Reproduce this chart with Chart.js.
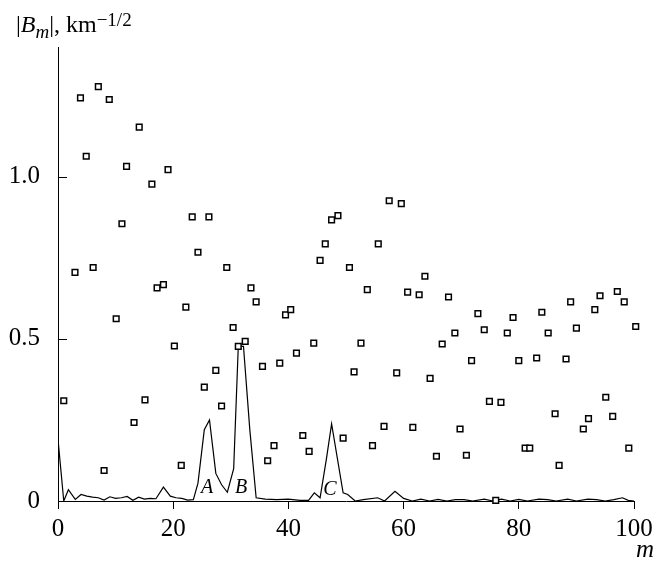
<!DOCTYPE html>
<html>
<head>
<meta charset="utf-8">
<script src="https://cdn.jsdelivr.net/npm/chart.js@4.4.1/dist/chart.umd.min.js"></script>
<style>
	html, body { margin: 0; padding: 0; background: #fff; }
</style>
</head>
<body>
<canvas id="chart" width="665" height="561"></canvas>
<script>
// Squares: |B_m|
const pointM = [1, 2.95, 3.9, 4.9, 6.1, 7, 8, 8.9, 10.1, 11.1, 11.9, 13.2, 14.1, 15.1, 16.3, 17.2, 18.3, 19.1, 20.2, 21.4,
	22.2, 23.3, 24.3, 25.4, 26.2, 27.4, 28.4, 29.3, 30.4, 31.3, 32.5, 33.5, 34.4, 35.5, 36.4, 37.5, 38.5, 39.5, 40.4, 41.4,
	42.5, 43.6, 44.4, 45.5, 46.4, 47.5, 48.6, 49.5, 50.6, 51.4, 52.6, 53.7, 54.6, 55.6, 56.6, 57.5, 58.8, 59.6, 60.7, 61.6,
	62.7, 63.7, 64.6, 65.7, 66.7, 67.8, 68.9, 69.8, 70.9, 71.8, 72.9, 74.0, 74.9, 76.0, 76.9, 78.0, 79.0, 80.0, 81.1, 81.9,
	83.1, 84.0, 85.1, 86.3, 87.0, 88.2, 89.0, 90.0, 91.2, 92.1, 93.2, 94.1, 95.1, 96.3, 97.1, 98.3, 99.1, 100.3];
const pointB = [0.309, 0.705, 1.243, 1.063, 0.72, 1.278, 0.094, 1.238, 0.562, 0.855, 1.032, 0.242, 1.153, 0.312, 0.977, 0.657, 0.667, 1.022, 0.478, 0.11,
	0.598, 0.876, 0.767, 0.351, 0.876, 0.403, 0.293, 0.72, 0.535, 0.477, 0.492, 0.657, 0.614, 0.415, 0.124, 0.171, 0.425, 0.574, 0.59, 0.456,
	0.202, 0.153, 0.487, 0.742, 0.793, 0.867, 0.88, 0.194, 0.72, 0.398, 0.487, 0.652, 0.171, 0.793, 0.23, 0.926, 0.395, 0.917, 0.644, 0.227,
	0.636, 0.693, 0.378, 0.138, 0.484, 0.629, 0.518, 0.222, 0.141, 0.433, 0.578, 0.528, 0.307, 0.002, 0.304, 0.518, 0.566, 0.433, 0.163, 0.163,
	0.441, 0.582, 0.518, 0.269, 0.11, 0.438, 0.614, 0.533, 0.222, 0.254, 0.59, 0.633, 0.32, 0.261, 0.646, 0.614, 0.163, 0.538];

// Solid curve
const curveM = [0, 1, 1.8, 3, 4, 5, 6, 7, 8, 9, 10, 11, 12, 13, 14, 15, 16, 17, 18.3, 19.5, 20.5, 21.5, 22.5, 23.5,
	24.3, 25.4, 26.3, 27.4, 28.4, 29.4, 30.5, 31.3, 32.2, 33.3, 34.4, 36, 38, 40, 42, 43.5, 44.5, 45.5, 46.6, 47.5,
	49.5, 50.3, 51.6, 53, 55.5, 56.7, 58.5, 60, 61.5, 63, 64.5, 66, 67.5, 69, 70.5, 72, 74, 75.5, 77, 78.5, 80, 81.5,
	83.5, 85, 86.5, 88.5, 90, 92, 93.5, 95, 96.5, 98, 99, 100];
const curveB = [0.19, 0, 0.035, 0.005, 0.02, 0.015, 0.012, 0.01, 0.003, 0.013, 0.008, 0.01, 0.014, 0.002, 0.012, 0.006, 0.008, 0.007, 0.043, 0.015, 0.01, 0.008, 0.003, 0.004,
	0.055, 0.22, 0.25, 0.085, 0.05, 0.027, 0.1, 0.477, 0.477, 0.22, 0.01, 0.006, 0.004, 0.006, 0.002, 0.002, 0.025, 0.01, 0.13, 0.238,
	0.025, 0.02, 0, 0.004, 0.01, 0, 0.03, 0.008, 0, 0.006, 0, 0.005, 0, 0.004, 0.004, 0, 0.006, 0, 0.006, 0, 0.005, 0,
	0.006, 0.004, 0, 0.006, 0, 0.006, 0.004, 0, 0.004, 0.01, 0.002, 0];

const yTickVals   = [0, 0.5, 1.0];
const yTickLabels = ['0', '0.5', '1.0'];
const peakNames   = ['A', 'B', 'C'];
const peakM       = [25.9, 31.8, 47.2];
const peakB       = [0.025, 0.025, 0.02];

const SERIF = '"Liberation Serif", "Times New Roman", serif';

const extras = {
	id: 'extras',
	afterDraw(chart) {
		const { ctx, scales: { x, y } } = chart;
		ctx.save();
		ctx.strokeStyle = '#000';
		ctx.lineWidth = 1;
		// inward ticks on y
		yTickVals.forEach(v => {
			const py = Math.round(y.getPixelForValue(v)) + 0.5;
			ctx.beginPath();
			ctx.moveTo(x.left, py);
			ctx.lineTo(x.left + 9, py);
			ctx.stroke();
		});
		ctx.fillStyle = '#000';
		ctx.textBaseline = 'alphabetic';

		// peak labels
		ctx.font = 'italic 20px ' + SERIF;
		ctx.textAlign = 'center';
		peakNames.forEach((t, i) => {
			ctx.fillText(t, x.getPixelForValue(peakM[i]), y.getPixelForValue(peakB[i]));
		});

		// y title: |B_m|, km^-1/2
		ctx.textAlign = 'left';
		let px = 16;
		const base = 32;
		const put = (text, font, dy) => {
			ctx.font = font;
			ctx.fillText(text, px, base + dy);
			px += ctx.measureText(text).width;
		};
		put('|', '24px ' + SERIF, 0);
		put('B', 'italic 24px ' + SERIF, 0);
		put('m', 'italic 19px ' + SERIF, 6);
		put('|, km', '24px ' + SERIF, 0);
		put('\u22121/2', '19px ' + SERIF, -6);

		// x title
		ctx.font = 'italic 25px ' + SERIF;
		ctx.fillText('m', x.right + 2, 557);
		ctx.restore();
	}
};

new Chart(document.getElementById('chart').getContext('2d'), {
	type: 'scatter',
	data: {
		datasets: [
			{
				data: pointM.map((m, i) => ({ x: m, y: pointB[i] })),
				pointStyle: 'rect',
				pointRadius: 4,
				borderWidth: 1.5,
				borderColor: '#000',
				backgroundColor: '#fff',
				clip: false,
				order: 0
			},
			{
				data: curveM.map((m, i) => ({ x: m, y: curveB[i] })),
				showLine: true,
				pointRadius: 0,
				borderColor: '#000',
				borderWidth: 1.2,
				tension: 0,
				order: 1
			}
		]
	},
	options: {
		responsive: false,
		animation: false,
		layout: { padding: { top: 47, right: 31, left: 0, bottom: 0 } },
		plugins: { legend: { display: false }, tooltip: { enabled: false } },
		scales: {
			x: {
				type: 'linear',
				min: 0,
				max: 100,
				afterFit: s => { s.height = 60; },
				ticks: { stepSize: 20, maxRotation: 0, color: '#000', padding: 5, font: { family: SERIF, size: 25 } },
				grid: { display: true, drawOnChartArea: false, drawTicks: true, tickLength: 8, color: '#000', lineWidth: 1 },
				border: { display: true, color: '#000', width: 1 }
			},
			y: {
				min: 0,
				max: 1.4,
				afterFit: s => { s.width = 58; },
				afterBuildTicks: s => { s.ticks = yTickVals.map(v => ({ value: v })); },
				ticks: { callback: (v, i) => yTickLabels[i], color: '#000', padding: 10, font: { family: SERIF, size: 25 } },
				grid: { display: false },
				border: { display: true, color: '#000', width: 1 }
			}
		}
	},
	plugins: [extras]
});
</script>
</body>
</html>
